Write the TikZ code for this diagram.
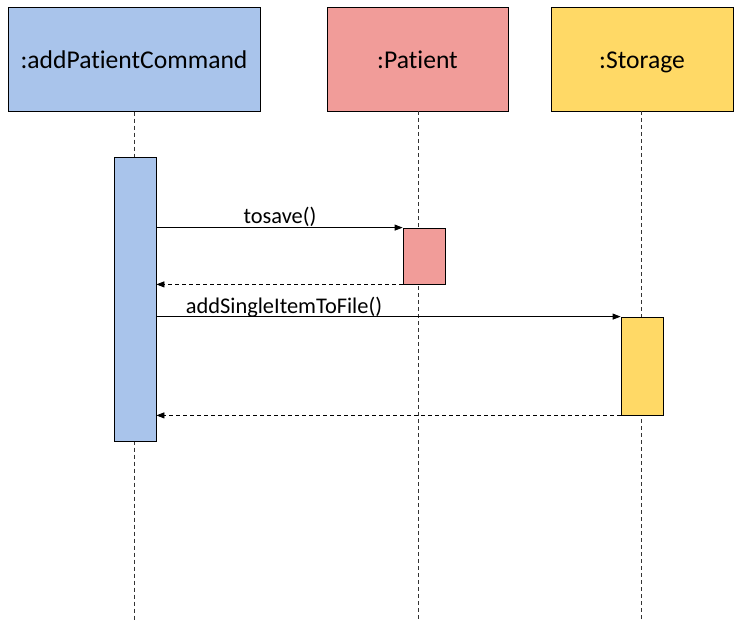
\documentclass[tikz,border=0pt]{standalone}
\usepackage{fontspec}
\setmainfont{Carlito}[Ligatures=NoCommon]
\usetikzlibrary{arrows.meta}
\definecolor{cblue}{HTML}{A9C4EB}
\definecolor{cred}{HTML}{F19C99}
\definecolor{cyel}{HTML}{FFD966}
\begin{document}
\begin{tikzpicture}[x=1pt,y=-1pt,
  head/.style={draw=black,line width=1pt,inner sep=0pt,minimum height=104pt},
  htxt/.style={inner sep=0pt,anchor=base,font=\fontsize{25.6}{28}\selectfont},
  act/.style={draw=black,line width=0.8pt,inner sep=0pt,minimum width=42pt},
  life/.style={line width=0.8pt,dash pattern=on 4pt off 3pt,draw=black!80},
  msg/.style={line width=0.8pt,-{Triangle[length=8pt,width=6pt]}},
  ret/.style={line width=0.8pt,dash pattern=on 4pt off 3pt,-{Triangle[length=8pt,width=6pt]}},
  lbl/.style={font=\fontsize{22.4}{25}\selectfont,inner sep=0pt,anchor=base}]
\useasboundingbox[fill=white] (0,0) rectangle (747,643);
% heads
\node[head,fill=cblue,minimum width=252pt] (h1) at (134,59) {};
\node[head,fill=cred,minimum width=181pt] (h2) at (417.5,59) {};
\node[head,fill=cyel,minimum width=182pt] (h3) at (642,59) {};
\node[htxt] (ht1) at (134,68) {:addPatientCommand};
\node[htxt] (ht2) at (417.5,68) {:Patient};
\node[htxt] (ht3) at (642,68) {:Storage};
% lifeline ends
\coordinate (s2) at (418,111);
\coordinate (s3) at (641,111);
\coordinate (e1) at (134,620);
\coordinate (e2) at (418,620);
\coordinate (e3) at (641,620);
\draw[life] (h1.south) -- (e1);
\draw[life] (s2) -- (e2);
\draw[life] (s3) -- (e3);
% activations
\node[act,fill=cblue,minimum height=284pt] (a1) at (135,299) {};
\node[act,fill=cred,minimum height=56pt] (a2) at (424,256) {};
\node[act,fill=cyel,minimum height=98pt] (a3) at (642,366) {};
% messages
\draw[msg] (a1.east |- a2.north west) -- (a2.north west);
\node[lbl] (t1) at (280,223.5) {tosave()};
\draw[ret] (a2.south west) -- (a1.east |- a2.south west);
\draw[msg] (a1.east |- a3.north west) -- (a3.north west);
\node[lbl] (t2) at (284,313) {addSingleItemToFile()};
\draw[ret] (a3.south west) -- (a1.east |- a3.south west);
\end{tikzpicture}
\end{document}
